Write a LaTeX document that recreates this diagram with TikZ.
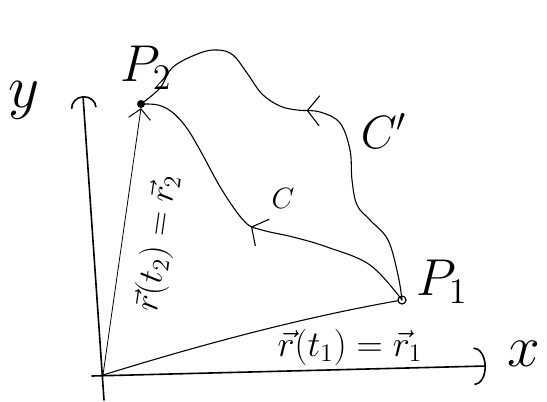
\documentclass[tikz,border=0pt]{standalone}
\usepackage{graphicx}
\usetikzlibrary{arrows.meta,decorations.markings}
\newcommand{\hlab}[2]{\scalebox{#1}{\LARGE #2}}
\begin{document}
\begin{tikzpicture}[x=1pt,y=-1pt,line cap=round,line join=round,
  ax/.style={line width=1.6pt},
  crv/.style={line width=1.1pt},
  vec/.style={line width=0.8pt},
  lbl/.style={inner sep=0pt},
  barb/.style={postaction={decorate},decoration={markings,mark=at position #1 with {\arrow{Straight Barb[length=12pt,width=30pt,line width=1.1pt]}}}}
]
\useasboundingbox (0,0) rectangle (547,402);
% points
\coordinate (O) at (103,375);
\coordinate (ybot) at (104,400);
\coordinate (ytip) at (83,96);
\coordinate (xleft) at (92,376);
\coordinate (xtip) at (486,366);
\node[circle,fill=black,inner sep=0pt,minimum size=8pt] (P2) at (141,104) {};
\node[circle,draw=black,line width=1.2pt,inner sep=0pt,minimum size=8pt] (P1) at (402,300) {};
% axes
\draw[ax,-{Arc Barb[length=12pt,width=26pt]}] (ybot) -- (ytip);
\draw[ax,-{Arc Barb[length=12pt,width=38pt]}] (xleft) -- (xtip);
% position vectors
\draw[vec,-{Straight Barb[length=10pt,width=22pt,line width=1pt]}] (O) -- (P2.south);
\draw[crv] (O) .. controls (200,345) and (300,318) .. (P1);
% curve C
\draw[crv,barb=0.5] plot[smooth,tension=0.6] coordinates {(P1) (370,265) (327,247) (293,237) (262,230) (245,222) (222,190) (200,150) (186,127) (172,112) (158,105) (P2)};
% curve C'
\draw[crv,barb=0.52] plot[smooth,tension=0.6] coordinates {(P1) (398,275) (388,240) (370,220) (357,205) (352,180) (350,150) (340,123) (320,112) (297,110) (280,106) (262,94) (247,73) (233,55) (218,50) (200,53) (173,67) (160,88) (P2)};
% labels
\node[lbl] (ylab) at (24,100) {\hlab{3.5}{$y$}};
\node[lbl] (xlab) at (524,354) {\hlab{3.4}{$x$}};
\node[lbl] (P2lab) at (146,68) {\hlab{3}{$P_2$}};
\node[lbl] (P1lab) at (442,282) {\hlab{3}{$P_1$}};
\node[lbl] (Clab) at (283,198) {\hlab{1.7}{$C$}};
\node[lbl] (Cplab) at (384,131) {\hlab{2.7}{$C'$}};
\node[lbl,rotate=82] (r2lab) at (158,243) {\hlab{2.0}{$\vec r(t_2)=\vec r_2$}};
\node[lbl] (r1lab) at (350,347) {\hlab{2.1}{$\vec r(t_1)=\vec r_1$}};
\end{tikzpicture}
\end{document}
